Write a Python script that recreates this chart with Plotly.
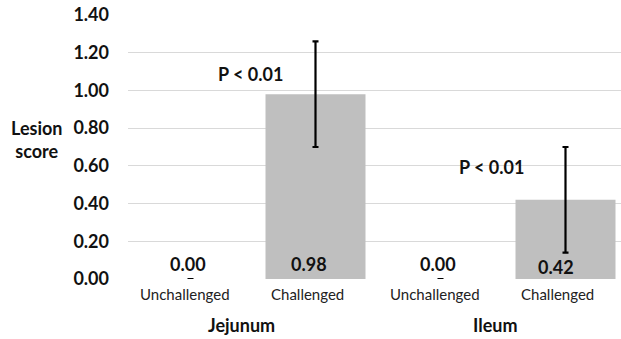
import plotly.graph_objects as go

categories = ["Unchallenged", "Challenged", "Unchallenged", "Challenged"]
lesion_score = [0.00, 0.98, 0.00, 0.42]
error_sd = [None, 0.28, None, 0.28]
groups = ["Jejunum", "Ileum"]
p_labels = ["P < 0.01", "P < 0.01"]
y_ticks = [0, 0.2, 0.4, 0.6, 0.8, 1.0, 1.2, 1.4]

FONT = "Lato"
x_idx = list(range(len(categories)))

fig = go.Figure()
fig.add_trace(go.Bar(
    x=x_idx, y=lesion_score,
    marker=dict(color="#BFBFBF", line=dict(width=0)),
    width=0.8,
    error_y=dict(type="data", array=error_sd, visible=True,
                 color="black", thickness=2.2, width=3),
    showlegend=False, hoverinfo="skip",
))

ann = []
# data labels
label_shift = [-3, -7, -3, -10]
label_y = [0.08, 0.08, 0.08, 0.065]
for i, v in enumerate(lesion_score):
    ann.append(dict(x=i, y=label_y[i], xref="x", yref="y", text=f"<b>{v:.2f}</b>",
                    showarrow=False, xshift=label_shift[i],
                    font=dict(family=FONT, size=18, color="#111")))
# category labels
cat_shift = [-6, -8, -6, -8]
for i, c in enumerate(categories):
    ann.append(dict(x=i, y=0, xref="x", yref="y", text=c, showarrow=False,
                    yshift=-15, xshift=cat_shift[i],
                    font=dict(family=FONT, size=15, color="#222")))
# group labels
for gx, g in zip([0.41, 2.44], groups):
    ann.append(dict(x=gx, y=0, xref="x", yref="y", text=f"<b>{g}</b>", showarrow=False,
                    yshift=-46, font=dict(family=FONT, size=18, color="#111")))
# p-values
for (px, py), p in zip([(0.476, 1.087), (2.41, 0.595)], p_labels):
    ann.append(dict(x=px, y=py, xref="x", yref="y", text=f"<b>{p}</b>", showarrow=False,
                    font=dict(family=FONT, size=18, color="#111")))
# y title
ann.append(dict(x=-0.185, y=0.527, xref="x domain", yref="y domain",
                text="<b>Lesion<br>score</b>", xanchor="center",
                showarrow=False, font=dict(family=FONT, size=18, color="#111")))

fig.update_layout(
    width=621, height=339,
    margin=dict(l=128, r=0, t=15, b=60),
    paper_bgcolor="white", plot_bgcolor="white",
    bargap=0.2,
    annotations=ann,
    xaxis=dict(range=[-0.5, 3.444], showticklabels=False, showgrid=False,
               zeroline=False, showline=False, tickvals=x_idx),
    yaxis=dict(range=[0, 1.4], tickvals=y_ticks,
               ticktext=[f"<b>{t:.2f}</b>" for t in y_ticks],
               showgrid=True, gridcolor="#D9D9D9", gridwidth=1,
               zeroline=False, showline=False, ticks="",
               ticklabelstandoff=18,
               tickfont=dict(family=FONT, size=18, color="#111")),
)

fig.write_html("out.html", config={"displayModeBar": False},
               post_script="document.body.style.margin='0';")
